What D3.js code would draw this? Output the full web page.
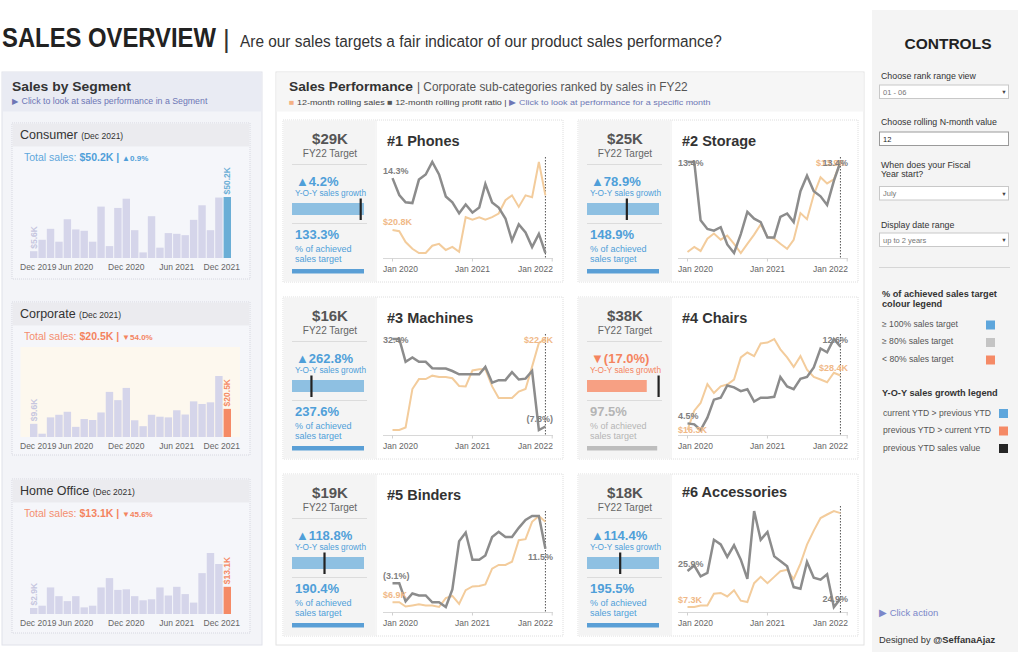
<!DOCTYPE html>
<html><head><meta charset="utf-8">
<script src="https://cdn.jsdelivr.net/npm/d3@7"></script>
<style>
body{margin:0;background:#fff;}
svg{display:block;font-family:"Liberation Sans",Arial,Helvetica,sans-serif;}
</style></head><body>
<svg id="c" width="1024" height="655"></svg>
<script>
// ---------------- DATA ----------------
const months = ["2020-01","2020-02","2020-03","2020-04","2020-05","2020-06","2020-07","2020-08","2020-09","2020-10","2020-11","2020-12",
                "2021-01","2021-02","2021-03","2021-04","2021-05","2021-06","2021-07","2021-08","2021-09","2021-10","2021-11","2021-12"];
const segments = ["Consumer","Corporate","Home Office"];
const segPeriod = "(Dec 2021)";
const segGrowth = [0.9, -54.0, -45.6];
const consumerSales   = [5.6,15.0,24.0,13.4,31.9,23.5,22.4,13.4,42.3,9.8,41.2,48.8,22.9,4.6,34.4,8.5,20.5,19.9,18.8,31.4,43.4,22.9,49.75,50.2];
const corporateSales  = [9.6,2.4,14.3,16.2,18.4,7.4,13.1,12.4,17.9,32.9,26.9,35.8,12.2,7.9,16.2,14.8,14.3,19.5,16.4,26.0,24.1,25.3,44.5,20.5];
const homeOfficeSales = [2.9,4.0,12.8,8.6,6.2,8.6,3.2,4.0,12.8,17.3,11.6,11.9,8.6,6.6,7.1,12.8,8.9,13.1,9.6,5.5,19.7,29.4,24.1,13.1];
const segTickMonths = ["2019-12","2020-06","2020-12","2021-06","2021-12"];
const segTickLabels = ["Dec 2019","Jun 2020","Dec 2020","Jun 2021","Dec 2021"];

const subCats     = ["Phones","Storage","Machines","Chairs","Binders","Accessories"];
const fy22Target  = [29, 25, 16, 38, 19, 18];
const yoyGrowth   = [4.2, 78.9, 262.8, -17.0, 118.8, 114.4];
const achievedPct = [133.3, 148.9, 237.6, 97.5, 190.4, 195.5];

const phonesSales      = [20.8,20.6,18.8,17.7,17.0,17.0,18.2,18.5,17.5,18.0,17.2,22.9,22.5,22.9,22.5,22.9,23.5,25.7,26.5,24.6,26.5,26.2,32.0,26.5];
const phonesProfit     = [14.3,12.0,11.0,10.9,14.1,14.8,16.5,14.8,11.8,11.0,9.5,10.7,9.6,10.3,13.5,11.0,10.3,8.8,5.8,8.0,6.9,4.9,6.7,4.1];
const storageSales     = [5.1,5.6,5.2,6.4,6.9,6.3,6.7,5.9,5.0,5.9,6.8,7.8,6.6,6.4,5.9,5.4,6.3,8.9,8.3,10.7,12.4,11.8,12.2,13.9];
const storageProfit    = [13.4,13.4,10.0,9.5,9.4,9.6,8.6,8.1,9.2,10.5,10.1,9.9,9.0,9.0,10.2,10.4,9.9,11.7,12.6,11.7,11.4,10.9,12.3,13.4];
const machinesSales    = [1.5,1.5,2.1,11.0,13.3,13.3,14.1,13.8,13.8,13.5,11.7,11.6,15.3,15.6,15.6,11.6,8.9,8.9,8.9,10.4,11.0,16.2,21.7,22.6];
const machinesProfit   = [32.4,32.4,21.9,23.9,21.9,21.9,19.0,18.8,18.8,17.7,16.2,16.2,16.2,16.2,19.6,12.3,13.5,13.5,17.2,13.8,14.2,17.7,-9.4,-7.8];
const chairsSales      = [16.3,20.6,22.3,26.5,24.5,26.0,26.4,27.5,32.4,33.5,32.7,35.5,35.7,36.5,34.2,32.4,30.3,32.7,29.7,28.1,27.5,26.9,29.0,28.4];
const chairsProfit     = [4.5,4.4,3.8,5.1,7.0,7.2,8.5,8.3,7.9,8.1,6.8,7.2,7.2,7.3,9.4,8.4,8.1,9.2,9.4,10.4,12.4,12.0,13.4,12.6];
const bindersSales     = [6.9,6.9,6.1,6.3,6.5,6.3,6.3,6.0,7.7,8.1,6.6,9.2,9.9,10.0,10.3,13.3,14.0,14.0,14.6,18.7,18.9,22.2,23.3,22.2];
const bindersProfit    = [-3.1,-3.1,-10.7,-7.4,-8.2,-8.2,-11.1,-11.1,-13.1,-5.7,14.7,18.4,6.9,6.9,8.7,16.5,18.7,16.5,16.5,20.4,23.7,25.4,25.4,11.5];
const accessoriesSales = [7.3,7.3,7.5,7.5,9.2,9.3,8.8,9.7,8.2,8.0,10.7,11.6,10.7,11.6,12.4,12.6,11.3,13.5,16.2,18.2,20.0,20.5,21.0,20.7];
const accessoriesProfit= [25.90,26.10,25.71,25.83,27.03,26.86,26.41,26.83,26.31,25.62,28.07,27.03,27.31,26.43,26.26,26.07,25.32,25.26,26.23,25.66,25.59,25.78,24.60,24.90];
const lineTickDates  = ["2020-01","2021-01","2022-01"];
const lineTickLabels = ["Jan 2020","Jan 2021","Jan 2022"];

// ---------------- HELPERS ----------------
const svg = d3.select("#c");
function T(g, x, y, s, o = {}) {
  const t = g.append("text").attr("x", x).attr("y", y).text(s)
    .attr("font-size", o.size || 10).attr("fill", o.fill || "#333")
    .attr("text-anchor", o.anchor || "start");
  if (o.bold) t.attr("font-weight", "bold");
  if (o.len) fitLen(t, x, y, o.len);
  return t;
}
function fitLen(t, x, y, len) {
  const w = t.node().getComputedTextLength();
  t.attr("x", 0).attr("y", 0).attr("transform", `translate(${x},${y}) scale(${len / w},1)`);
}
const BLUE = "#4f9fd9", ORANGE = "#f4845f", GREYTXT = "#b5b5b5";
const parseM = d3.timeParse("%Y-%m");

// ---------------- TITLE ----------------
T(svg, 2, 47, "SALES OVERVIEW", {size: 27, bold: true, fill: "#222", len: 214});
T(svg, 223, 48, "|", {size: 26, fill: "#333"});
T(svg, 240, 47, "Are our sales targets a fair indicator of our product sales performance?", {size: 17, fill: "#333", len: 482});

// ---------------- LEFT PANEL ----------------
const L = svg.append("g");
L.append("rect").attr("x", 2).attr("y", 72).attr("width", 260).attr("height", 573).attr("fill", "#f3f4f8").attr("stroke", "#e0e2ea");
L.append("rect").attr("x", 2.5).attr("y", 72.5).attr("width", 259).attr("height", 39).attr("fill", "#e9ebf3");
T(L, 12, 91, "Sales by Segment", {size: 13.5, bold: true, fill: "#333", len: 119});
T(L, 12, 103.5, "▶ Click to look at sales performance in a Segment", {size: 8.5, fill: "#6d76b5", len: 196});

const segData = [consumerSales, corporateSales, homeOfficeSales];
const segTop = [123, 302, 479], segH = [156, 153, 154];
const xb = d3.scaleBand().domain(months).range([29.5, 231.5]).paddingInner(0.12).paddingOuter(0.06);
segData.forEach((vals, i) => {
  const top = segTop[i], g = L.append("g");
  const up = segGrowth[i] >= 0, col = up ? BLUE : ORANGE;
  g.append("rect").attr("x", 12).attr("y", top).attr("width", 238).attr("height", segH[i])
    .attr("fill", "#f5f6fa").attr("stroke", "#d6d7e0").attr("stroke-dasharray", "1,1");
  g.append("rect").attr("x", 12.5).attr("y", top + 0.5).attr("width", 237).attr("height", 23).attr("fill", "#ebebef");
  const h = g.append("text").attr("x", 20).attr("y", top + 16).attr("fill", "#333");
  h.append("tspan").attr("font-size", 12.5).text(segments[i] + " ");
  h.append("tspan").attr("font-size", 8.5).text(segPeriod);
  const last = vals[vals.length - 1];
  const ts = g.append("text").attr("x", 24).attr("y", top + 37.5).attr("fill", col);
  ts.append("tspan").attr("font-size", 10.5).attr("opacity", 0.9).text("Total sales: ");
  ts.append("tspan").attr("font-size", 10.5).attr("font-weight", "bold").text("$" + last.toFixed(1) + "K | ");
  ts.append("tspan").attr("font-size", 8).attr("font-weight", "bold")
    .text((up ? "▲" : "▼") + Math.abs(segGrowth[i]).toFixed(1) + "%");
  const bottom = top + 135;
  if (i === 1) {
    g.append("rect").attr("x", 20.5).attr("y", top + 45).attr("width", 219.5).attr("height", 90).attr("fill", "#fdf8ee");
  }
  const y = d3.scaleLinear().domain([0, d3.max(vals)]).range([bottom, bottom - 61]);
  g.selectAll("rect.bar").data(vals).join("rect").attr("class", "bar")
    .attr("x", (d, k) => xb(months[k])).attr("width", xb.bandwidth())
    .attr("y", d => y(d)).attr("height", d => bottom - y(d))
    .attr("fill", (d, k) => k === vals.length - 1 ? (up ? "#6baed6" : "#f58a66") : "#d5d5ea");
  const lab = (k, c) => {
    const cx = xb(months[k]) + xb.bandwidth() / 2 + 3.2, ty = y(vals[k]) - 2.5;
    g.append("text").attr("transform", `translate(${cx},${ty}) rotate(-90)`)
      .attr("font-size", 8.5).attr("font-weight", "bold").attr("fill", c)
      .text("$" + vals[k].toFixed(1) + "K");
  };
  lab(0, "#c6c6df");
  lab(vals.length - 1, up ? "#6baed6" : "#f58a66");
  segTickMonths.forEach((m, k) => {
    const idx = months.indexOf(m);
    const cx = idx >= 0 ? xb(m) + xb.bandwidth() / 2 : xb(months[0]) + xb.bandwidth() / 2 - xb.step();
    const t = T(g, cx, top + 147, segTickLabels[k], {size: 8.5, fill: "#666", anchor: "middle"});
    const w = t.node().getComputedTextLength();
    let nx = cx;
    if (cx - w / 2 < 20) nx = 20 + w / 2;
    if (cx + w / 2 > 240) nx = 240 - w / 2;
    t.attr("x", nx);
  });
});

// ---------------- MIDDLE PANEL ----------------
const M = svg.append("g");
M.append("rect").attr("x", 276).attr("y", 72).attr("width", 588).attr("height", 573).attr("fill", "#fff").attr("stroke", "#e2e2e2");
M.append("rect").attr("x", 276.5).attr("y", 72.5).attr("width", 587).attr("height", 39).attr("fill", "#f6f6f6");
T(M, 289, 91, "Sales Performance", {size: 13.5, bold: true, fill: "#333", len: 124});
T(M, 417, 91, "| Corporate sub-categories ranked by sales in FY22", {size: 12, fill: "#555", len: 271});
const lg = M.append("text").attr("x", 289).attr("y", 105).attr("font-size", 8);
lg.append("tspan").attr("fill", "#f4b183").text("■");
lg.append("tspan").attr("fill", "#444").text(" 12-month rolling sales ");
lg.append("tspan").attr("fill", "#555").text("■");
lg.append("tspan").attr("fill", "#444").text(" 12-month rolling profit ratio | ");
lg.append("tspan").attr("fill", "#6d76b5").text("▶ Click to look at performance for a specific month");
fitLen(lg, 289, 105, 421);

const lineSeries = [
  [phonesSales, phonesProfit], [storageSales, storageProfit], [machinesSales, machinesProfit],
  [chairsSales, chairsProfit], [bindersSales, bindersProfit], [accessoriesSales, accessoriesProfit]];
const labelShow = {
  Phones: {ss: 1, se: 0, ps: 1, pe: 0}, Storage: {ss: 0, se: 1, ps: 1, pe: 1},
  Machines: {ss: 0, se: 1, ps: 1, pe: 1}, Chairs: {ss: 1, se: 1, ps: 1, pe: 1},
  Binders: {ss: 1, se: 0, ps: 1, pe: 1}, Accessories: {ss: 1, se: 0, ps: 1, pe: 1}};
const labelPos = {"Chairs-ss": "mid", "Binders-pe": "below", "Accessories-pe": "mid"};
const labelShiftX = {"Storage-se": -3};
const layoutTweak = {Accessories: {titleY: 22.5, pTop: 37}};
const fmtSales = v => "$" + v.toFixed(1) + "K";
const fmtProfit = v => v < 0 ? "(" + Math.abs(v).toFixed(1) + "%)" : v.toFixed(1) + "%";
const cardX = [283, 578], cardY = [120, 297, 474];

subCats.forEach((name, i) => {
  const x0 = cardX[i % 2], y0 = cardY[Math.floor(i / 2)];
  const lt = layoutTweak[name] || {};
  const g = M.append("g").attr("transform", `translate(${x0},${y0})`);
  g.append("rect").attr("x", 0).attr("y", 0).attr("width", 280).attr("height", 162)
    .attr("fill", "#fff").attr("stroke", "#dedede").attr("stroke-dasharray", "1,1");
  g.append("rect").attr("x", 0.5).attr("y", 0.5).attr("width", 91.5).attr("height", 161).attr("fill", "#f4f4f4");
  g.append("line").attr("x1", 93).attr("x2", 93).attr("y1", 0).attr("y2", 162).attr("stroke", "#ececec");
  // KPI
  T(g, 47, 23.5, "$" + fy22Target[i] + "K", {size: 15, bold: true, fill: "#555", anchor: "middle"});
  T(g, 47, 37, "FY22 Target", {size: 10, fill: "#666", anchor: "middle"});
  g.append("line").attr("x1", 9).attr("x2", 84).attr("y1", 44.5).attr("y2", 44.5).attr("stroke", "#dcdcdc");
  g.append("line").attr("x1", 9).attr("x2", 84).attr("y1", 103.5).attr("y2", 103.5).attr("stroke", "#dcdcdc");
  const gr = yoyGrowth[i], up = gr >= 0, gc = up ? BLUE : ORANGE;
  T(g, 13, 65.5, (up ? "▲" : "▼") + (up ? gr.toFixed(1) + "%" : "(" + Math.abs(gr).toFixed(1) + "%)"), {size: 13, bold: true, fill: gc});
  T(g, 12, 75.5, "Y-O-Y sales growth", {size: 8.3, fill: gc});
  const cur = 1 + gr / 100, prev = 1, mx = Math.max(cur, prev);
  const gx = d3.scaleLinear().domain([0, mx]).range([9, 81]);
  g.append("rect").attr("x", gx(0)).attr("y", 83).attr("width", gx(cur) - gx(0)).attr("height", 12)
    .attr("fill", up ? "#8ec0e2" : "#f7a083");
  g.append("rect").attr("x", gx(prev) - 1.5).attr("y", 78.5).attr("width", 2.2).attr("height", 21.5).attr("fill", "#222");
  const ap = achievedPct[i], ac = ap >= 100 ? BLUE : ap >= 80 ? GREYTXT : ORANGE;
  const abar = ap >= 100 ? "#5a9fd6" : ap >= 80 ? "#bdbdbd" : "#f58a66";
  T(g, 12, 119, ap.toFixed(1) + "%", {size: 13, bold: true, fill: ac});
  T(g, 12, 131.5, "% of achieved", {size: 9, fill: ac});
  T(g, 12, 141.5, "sales target", {size: 9, fill: ac});
  const ax = d3.scaleLinear().domain([0, 100]).range([9, 81]).clamp(true);
  g.append("rect").attr("x", ax(0)).attr("y", 149).attr("width", ax(ap) - ax(0)).attr("height", 4.5).attr("fill", abar);
  // chart
  T(g, 104, lt.titleY || 25.5, "#" + (i + 1) + " " + name, {size: 14.5, bold: true, fill: "#333"});
  const [sales, profit] = lineSeries[i];
  const pTop = lt.pTop || 42, pBot = 133;
  const x = d3.scaleTime().domain([parseM("2020-01"), parseM("2022-01")]).range([109.5, 269.2]);
  const ys = d3.scaleLinear().domain(d3.extent(sales)).range([pBot, pTop]);
  const yp = d3.scaleLinear().domain(d3.extent(profit)).range([pBot, pTop]);
  g.append("line").attr("x1", 100).attr("x2", 270).attr("y1", 138.5).attr("y2", 138.5).attr("stroke", "#d8d8d8");
  lineTickDates.forEach((d, k) => {
    const tx = x(parseM(d));
    g.append("line").attr("x1", tx).attr("x2", tx).attr("y1", 138.5).attr("y2", 141.5).attr("stroke", "#d0d0d0");
    const t = T(g, tx, 151.5, lineTickLabels[k], {size: 8.5, fill: "#666", anchor: "middle"});
    const w = t.node().getComputedTextLength();
    let nx = tx;
    if (tx - w / 2 < 100) nx = 100 + w / 2;
    if (tx + w / 2 > 270) nx = 270 - w / 2;
    t.attr("x", nx);
  });
  const xd = x(parseM(months[months.length - 1]));
  g.append("line").attr("x1", xd).attr("x2", xd).attr("y1", pTop - 5).attr("y2", 138.5)
    .attr("stroke", "#555").attr("stroke-dasharray", "1.5,1.5");
  const lineS = d3.line().x((d, k) => x(parseM(months[k]))).y(d => ys(d));
  const lineP = d3.line().x((d, k) => x(parseM(months[k]))).y(d => yp(d));
  g.append("path").attr("d", lineS(sales)).attr("fill", "none").attr("stroke", "#f3cc9c").attr("stroke-width", 2);
  g.append("path").attr("d", lineP(profit)).attr("fill", "none").attr("stroke", "#8c8c8c").attr("stroke-width", 2.5);
  const show = labelShow[name];
  const lbl = (key, val, py, fmt, col, start) => {
    const pos = labelPos[name + "-" + key] || "above";
    const by = pos === "below" ? py + 11.5 : pos === "mid" ? py + 3.3 : Math.max(py - 4.5, pTop + 3.5);
    const bx = (start ? 100 : 270) + (labelShiftX[name + "-" + key] || 0);
    T(g, bx, by, fmt(val), {size: 9, bold: true, fill: col, anchor: start ? "start" : "end"});
  };
  const n = months.length - 1;
  if (show.ss) lbl("ss", sales[0], ys(sales[0]), fmtSales, "#f0b987", true);
  if (show.se) lbl("se", sales[n], ys(sales[n]), fmtSales, "#f0b987", false);
  if (show.ps) lbl("ps", profit[0], yp(profit[0]), fmtProfit, "#808080", true);
  if (show.pe) lbl("pe", profit[n], yp(profit[n]), fmtProfit, "#808080", false);
});

// ---------------- CONTROLS ----------------
const C = svg.append("g");
C.append("rect").attr("x", 872).attr("y", 10).attr("width", 146).attr("height", 642).attr("fill", "#f4f4f4");
T(C, 948, 48.5, "CONTROLS", {size: 15.5, bold: true, fill: "#222", anchor: "middle"});
const ctrl = [
  {lab: ["Choose rank range view"], ly: 79, box: 85, val: "01 - 06", drop: true},
  {lab: ["Choose rolling N-month value"], ly: 124.5, box: 132, val: "12", drop: false},
  {lab: ["When does your Fiscal", "Year start?"], ly: 167.5, box: 186.5, val: "July", drop: true},
  {lab: ["Display date range"], ly: 227.5, box: 233, val: "up to 2 years", drop: true}];
ctrl.forEach(c => {
  c.lab.forEach((l, k) => T(C, 881, c.ly + k * 9, l, {size: 8.8, fill: "#333"}));
  C.append("rect").attr("x", 879.5).attr("y", c.box).attr("width", 129).attr("height", 13.5)
    .attr("fill", "#fff").attr("stroke", c.drop ? "#c8c8c8" : "#9a9a9a");
  T(C, 883, c.box + 9.5, c.val, {size: 7.5, fill: c.drop ? "#777" : "#222"});
  if (c.drop) T(C, 1004, c.box + 9, "▼", {size: 5.5, fill: "#444", anchor: "middle"});
});
C.append("line").attr("x1", 879).attr("x2", 1010).attr("y1", 267.5).attr("y2", 267.5).attr("stroke", "#d6d6d6");
T(C, 882, 296.5, "% of achieved sales target", {size: 9.2, bold: true, fill: "#333"});
T(C, 882, 306.5, "colour legend", {size: 9.2, bold: true, fill: "#333"});
const leg1 = [["≥ 100% sales target", "#5ea6dc"], ["≥ 80% sales target", "#c4c4c4"], ["< 80% sales target", "#f58a66"]];
leg1.forEach((d, k) => {
  T(C, 882, 326.5 + k * 17.5, d[0], {size: 8.6, fill: "#555"});
  C.append("rect").attr("x", 986).attr("y", 320.5 + k * 17.5).attr("width", 9).attr("height", 9).attr("fill", d[1]);
});
T(C, 882, 396, "Y-O-Y sales growth legend", {size: 9.2, bold: true, fill: "#333"});
const leg2 = [["current YTD > previous YTD", "#5ea6dc"], ["previous YTD > current YTD", "#f58a66"], ["previous YTD sales value", "#262626"]];
leg2.forEach((d, k) => {
  T(C, 883, 415.5 + k * 17.5, d[0], {size: 8.6, fill: "#555"});
  C.append("rect").attr("x", 999).attr("y", 409 + k * 17.5).attr("width", 9).attr("height", 9).attr("fill", d[1]);
});
T(C, 879, 616, "▶ Click action", {size: 9.5, fill: "#7b87c9"});
const ds = C.append("text").attr("x", 879).attr("y", 642.5).attr("font-size", 9.3).attr("fill", "#333");
ds.append("tspan").text("Designed by ");
ds.append("tspan").attr("font-weight", "bold").text("@SeffanaAjaz");
</script>
</body></html>
